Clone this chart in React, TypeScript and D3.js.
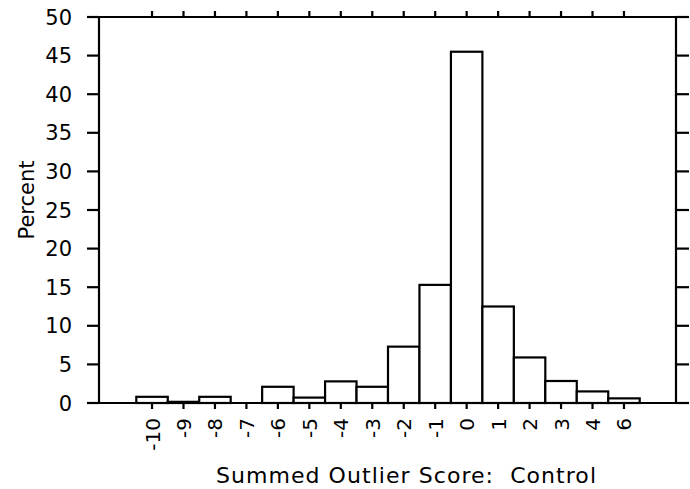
import React from "react";
import * as d3 from "d3";

const categories = ["-10", "-9", "-8", "-7", "-6", "-5", "-4", "-3", "-2", "-1", "0", "1", "2", "3", "4", "6"];
const percents = [0.8, 0.15, 0.8, 0, 2.1, 0.7, 2.8, 2.1, 7.3, 15.3, 45.5, 12.5, 5.9, 2.85, 1.5, 0.6];
const yTicks = [0, 5, 10, 15, 20, 25, 30, 35, 40, 45, 50];
const xTitle = "Summed Outlier Score:  Control";
const yTitle = "Percent";

const W = 690;
const H = 489;
const left = 99;
const right = 676;
const top = 17;
const bottom = 403;
const font = "DejaVu Sans, sans-serif";

export default function App() {
  const x = d3.scaleBand<string>().domain(categories).range([136.3, 639.7]).padding(0);
  const y = d3.scaleLinear().domain([0, 50]).range([bottom, top]);
  const data = categories.map((c, i) => ({ c, v: percents[i] }));
  const sw = 2.2;
  return (
    <svg width={W} height={H} style={{ position: "absolute", left: 0, top: 0, background: "#fff" }}>
      <rect x={0} y={0} width={W} height={H} fill="#fff" />
      {data.map((d) => (
        <rect
          key={d.c}
          x={x(d.c)!}
          y={y(d.v)}
          width={x.bandwidth()}
          height={bottom - y(d.v)}
          fill="#fff"
          stroke="#000"
          strokeWidth={sw}
        />
      ))}
      <line x1={left - 12} x2={right + 13} y1={top} y2={top} stroke="#000" strokeWidth={sw} />
      <line x1={left - 12} x2={right + 13} y1={bottom} y2={bottom} stroke="#000" strokeWidth={sw} />
      <line x1={left} x2={left} y1={top} y2={bottom} stroke="#000" strokeWidth={sw} />
      <line x1={right} x2={right} y1={top} y2={bottom} stroke="#000" strokeWidth={sw} />
      {yTicks.map((t) => (
        <g key={t}>
          <line x1={left - 12} x2={left} y1={y(t)} y2={y(t)} stroke="#000" strokeWidth={sw} />
          <line x1={right} x2={right + 13} y1={y(t)} y2={y(t)} stroke="#000" strokeWidth={sw} />
          <text
            x={72}
            y={y(t)}
            dy="0.36em"
            textAnchor="end"
            fontFamily={font}
            fontSize={21}
            fill="#000"
          >
            {t}
          </text>
        </g>
      ))}
      {categories.map((c) => {
        const cx = x(c)! + x.bandwidth() / 2;
        return (
          <g key={c}>
            <line x1={cx} x2={cx} y1={bottom} y2={bottom + 6} stroke="#000" strokeWidth={sw} />
            <line x1={cx} x2={cx} y1={top} y2={top - 6} stroke="#000" strokeWidth={sw} />
            <text
              transform={`translate(${cx + 7.5},418) rotate(-90)`}
              textAnchor="end"
              fontFamily={font}
              fontSize={20}
              fill="#000"
            >
              {c}
            </text>
          </g>
        );
      })}
      <text
        x={406}
        y={483}
        textAnchor="middle"
        fontFamily={font}
        fontSize={22}
        textLength={380}
        lengthAdjust="spacing"
        fill="#000"
        style={{ whiteSpace: "pre" }}
      >
        {xTitle}
      </text>
      <text
        transform={`translate(34,200) rotate(-90)`}
        textAnchor="middle"
        fontFamily={font}
        fontSize={21}
        fill="#000"
      >
        {yTitle}
      </text>
    </svg>
  );
}
